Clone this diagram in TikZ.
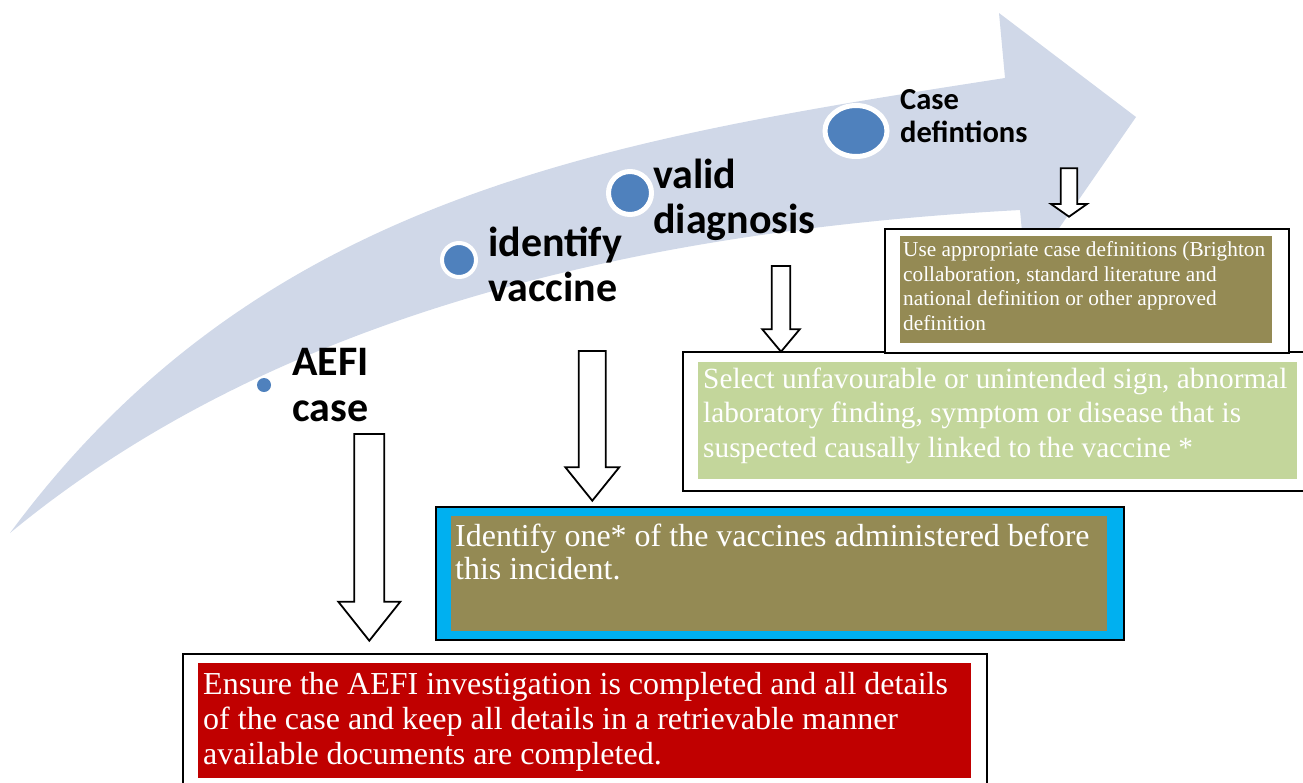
\documentclass[tikz,border=0pt]{standalone}
\usepackage{fontspec}
\setmainfont{Liberation Serif}
\newfontfamily\labelfont{Carlito}
\usetikzlibrary{calc,shapes.geometric}

\definecolor{sweepblue}{RGB}{208,216,232}
\definecolor{dotblue}{RGB}{79,129,189}
\definecolor{olivepanel}{RGB}{148,138,84}
\definecolor{sagepanel}{RGB}{195,214,155}
\definecolor{cyanframe}{RGB}{0,176,240}
\definecolor{deepred}{RGB}{192,0,0}

% multi-line text nodes are placed by the baseline of their last line
\tikzset{
  stagelabel/.style={anchor=base west, inner sep=0pt, align=left,
    font=\labelfont\bfseries\fontsize{42}{45.5}\selectfont},
  stagedot/.style={circle, fill=dotblue, draw=white, inner sep=0pt},
  frame/.style={draw=black, line width=1.5pt, fill=white, anchor=north west, inner sep=0pt},
  panel/.style={anchor=north west, inner sep=0pt, draw=none},
  boxtext/.style={anchor=base west, inner sep=0pt, align=left, text=white},
  blockarrow/.style={draw=black, line width=1.8pt, fill=white, line join=miter},
}

% hollow downward block arrow: start, tip, shaft half width, head half width, head length
\newcommand\blockdown[5]{%
  \draw[blockarrow] let \p1=(#1), \p2=(#2) in
    (\x1-#3pt,\y1) -- (\x1+#3pt,\y1) -- (\x1+#3pt,\y2+#5pt) -- (\x1+#4pt,\y2+#5pt)
    -- (\x2,\y2) -- (\x1-#4pt,\y2+#5pt) -- (\x1-#3pt,\y2+#5pt) -- cycle;}

\begin{document}
\begin{tikzpicture}[x=1pt,y=-1pt]
\useasboundingbox (0,0) rectangle (1303,782);
\clip (0,0) rectangle (1303,782);

% sweeping process arrow
\fill[sweepblue] (10,533) .. controls (260,195) and (605,140) .. (1005,78)
  -- (999,13) -- (1136,117) -- (1026,276) -- (1020,210)
  .. controls (650,230) and (280,310) .. (10,533) -- cycle;

% milestones along the arrow
\node[stagedot, draw=none, minimum size=14pt] (dot1) at (264,385) {};
\node[stagedot, line width=4pt, minimum size=34pt] (dot2) at (459,260) {};
\node[stagedot, line width=5pt, minimum size=43pt] (dot3) at (630,193) {};
\node[stagedot, ellipse, line width=5pt, minimum width=62pt, minimum height=51pt] (dot4) at (856,131) {};

\node[stagelabel] (lab1) at (292,421) {AEFI\\case};
\node[stagelabel] (lab2) at (488,301.5) {identify\\vaccine};
\node[stagelabel] (lab3) at (653,233.5) {valid\\diagnosis};
\node[stagelabel, font=\labelfont\bfseries\fontsize{30.5}{33}\selectfont] (lab4) at (900,142) {Case\\defintions};

% final step
\node[frame, minimum width=804pt, minimum height=150pt] (ensureframe) at (182,653) {};
\node[panel, fill=deepred, minimum width=773pt, minimum height=115pt] (ensurepanel) at (198,663) {};
\node[boxtext, font=\fontsize{32}{35}\selectfont] (ensuretext) at (203,764)
  {Ensure the AEFI investigation is completed and all details\\
   of the case and keep all details in a retrievable manner\\
   available documents are completed.};

% vaccine step
\node[frame, fill=cyanframe, minimum width=688pt, minimum height=133pt] (vaccframe) at (435,506) {};
\node[panel, fill=olivepanel, minimum width=656pt, minimum height=115pt] (vaccpanel) at (451,516) {};
\node[boxtext, font=\fontsize{32}{33}\selectfont] (vacctext) at (455,579)
  {Identify one* of the vaccines administered before\\this incident.};

% diagnosis step
\node[frame, minimum width=640pt, minimum height=139pt] (diagframe) at (682,351) {};
\node[panel, fill=sagepanel, minimum width=599pt, minimum height=117pt] (diagpanel) at (698,362) {};
\node[boxtext, font=\fontsize{29.3}{34.5}\selectfont] (diagtext) at (703,457)
  {Select unfavourable or unintended sign, abnormal\\
   laboratory finding, symptom or disease that is\\
   suspected causally linked to the vaccine *};

% case definition step
\node[frame, minimum width=404pt, minimum height=124pt] (defframe) at (884,228) {};
\node[panel, fill=olivepanel, minimum width=372pt, minimum height=107pt] (defpanel) at (900,236) {};
\node[boxtext, font=\fontsize{21.3}{24.5}\selectfont] (deftext) at (903,330)
  {Use appropriate case definitions (Brighton\\
   collaboration, standard literature and\\
   national definition or other approved\\
   definition};

% block arrows from each milestone down to its step
\coordinate (a1from) at (369.3,434);  \coordinate (a1to) at (369.3,640.7);
\coordinate (a2from) at (592.3,351);  \coordinate (a2to) at (592.3,500.7);
\coordinate (a3from) at (781,266);    \coordinate (a3to) at (781,351.7);
\coordinate (a4from) at (1069,168.3); \coordinate (a4to) at (1069,216.7);
\blockdown{a1from}{a1to}{15}{31}{39}
\blockdown{a2from}{a2to}{13.5}{27}{33.5}
\blockdown{a3from}{a3to}{9.3}{18.7}{22.4}
\blockdown{a4from}{a4to}{8.3}{18}{12.7}
\end{tikzpicture}
\end{document}
